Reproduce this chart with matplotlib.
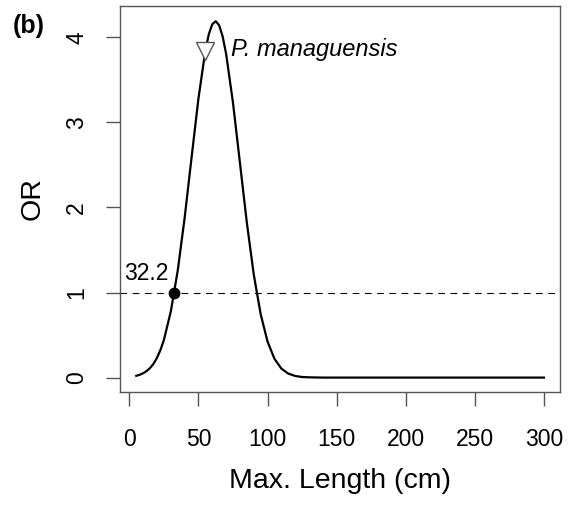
import numpy as np
from matplotlib import pyplot as plt

plt.rcParams['font.family'] = ['Liberation Sans', 'DejaVu Sans']

# odds ratio curve
length = [5, 7.5, 10, 12.5, 15, 17.5, 20, 22.5, 25, 30, 35, 40, 45, 50, 55, 57.5,
          60, 62.5, 65, 67.5, 70, 75, 80, 85, 90, 95, 100, 105, 110, 115, 120,
          125, 130, 140, 160, 200, 250, 300]
odds = [0.021, 0.033, 0.051, 0.077, 0.113, 0.163, 0.233, 0.325, 0.443, 0.778,
        1.258, 1.877, 2.585, 3.282, 3.845, 4.037, 4.154, 4.19, 4.141, 4.011,
        3.808, 3.230, 2.527, 1.824, 1.214, 0.747, 0.423, 0.221, 0.106, 0.047,
        0.019, 0.007, 0.003, 0.0, 0.0, 0.0, 0.0, 0.0]

threshold_x = 32.2
threshold_y = 1
species = "P. managuensis"
species_x = 55
species_y = 3.84

xticks = [0, 50, 100, 150, 200, 250, 300]
yticks = [0, 1, 2, 3, 4]

fig = plt.figure(figsize=(5.74, 5.05), dpi=100)
ax = fig.add_axes([0.209, 0.224, 0.767, 0.764])

ax.plot(length, odds, color="black", linewidth=1.6)
ax.axhline(threshold_y, color="black", linewidth=0.8, dashes=(6, 5))
ax.plot(threshold_x, threshold_y, "o", color="black", markersize=7.5)
ax.text(threshold_x - 4, threshold_y + 0.09, str(threshold_x), fontsize=16.5,
        ha="right", va="bottom")
ax.plot(species_x, species_y, "v", markerfacecolor="white",
        markeredgecolor="#555555", markersize=13, markeredgewidth=1)
ax.text(species_x + 18.5, species_y + 0.02, species, fontsize=17,
        style="italic", ha="left", va="center")

ax.set_xlim(-6.8, 311.8)
ax.set_ylim(-0.168, 4.368)
ax.set_xticks(xticks)
ax.set_yticks(yticks)
ax.set_yticklabels(yticks, rotation=90, va="center")
ax.tick_params(length=10, width=1, color="#555555", labelsize=16.5)
ax.tick_params(axis="x", pad=16)
ax.tick_params(axis="y", pad=13)
for s in ax.spines.values():
    s.set_color("#555555")
    s.set_linewidth(1)

ax.set_xlabel("Max. Length (cm)", fontsize=20.5, labelpad=12)
ax.set_ylabel("OR", fontsize=20.5, labelpad=14)
fig.text(0.023, 0.949, "(b)", fontsize=18, fontweight="bold", va="center")

fig.savefig("out.png", dpi=100)
